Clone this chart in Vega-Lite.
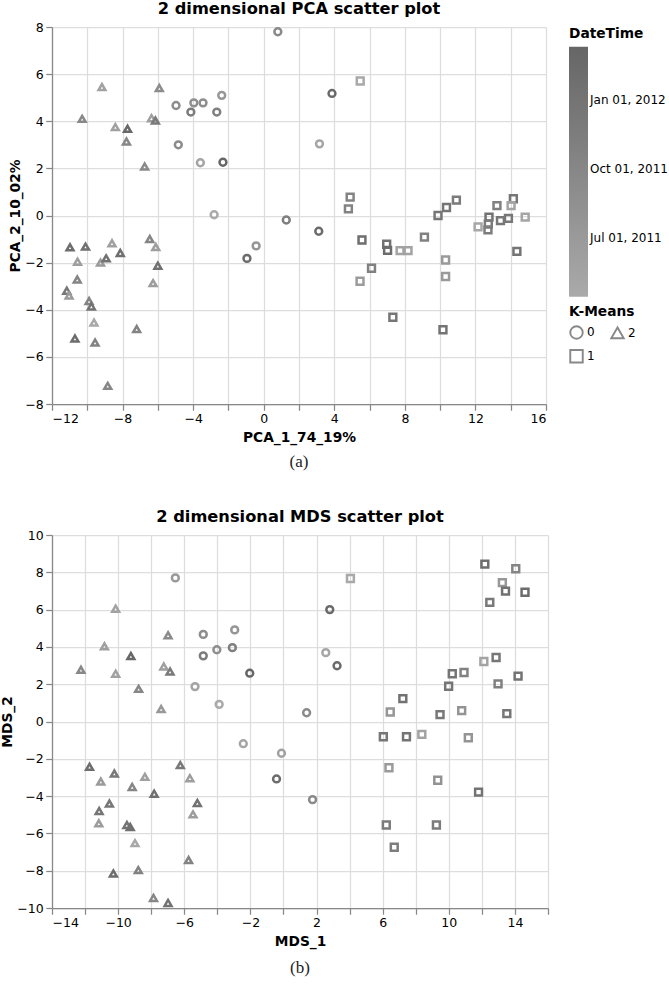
{
  "$schema": "https://vega.github.io/schema/vega-lite/v6.json",
  "padding": {"left": 0, "top": 0, "right": 0, "bottom": 2},
  "config": {
    "font": "DejaVu Sans",
    "view": {"stroke": null},
    "title": {"fontSize": 16.25, "offset": 4},
    "axis": {"labelFontSize": 12.5, "titleFontSize": 13.75, "tickSize": 6.25, "labelPadding": 2.5, "titlePadding": 2, "gridColor": "#dddddd", "gridWidth": 1.25, "domainColor": "#888888", "domainWidth": 1.25, "tickColor": "#888888", "tickWidth": 1.25},
    "axisX": {"labelSeparation": 10, "titlePadding": 5},
    "legend": {"labelFontSize": 12, "titleFontSize": 13.75, "gradientLength": 250, "gradientThickness": 19, "labelOffset": 3, "symbolSize": 156, "symbolStrokeWidth": 1.9, "offset": 20, "titlePadding": 6, "rowPadding": 3, "columnPadding": 12}
  },
  "datasets": {
    "pca": [
      {"x": 0.8, "y": 7.8, "DateTime": "2011-09-20", "KMeans": "0"},
      {"x": -4.97, "y": 4.67, "DateTime": "2011-09-01", "KMeans": "0"},
      {"x": -3.96, "y": 4.78, "DateTime": "2011-08-20", "KMeans": "0"},
      {"x": -3.44, "y": 4.78, "DateTime": "2011-08-25", "KMeans": "0"},
      {"x": -2.38, "y": 5.1, "DateTime": "2011-07-15", "KMeans": "0"},
      {"x": -4.13, "y": 4.39, "DateTime": "2011-11-20", "KMeans": "0"},
      {"x": -2.66, "y": 4.39, "DateTime": "2011-11-05", "KMeans": "0"},
      {"x": -4.84, "y": 3.0, "DateTime": "2011-09-10", "KMeans": "0"},
      {"x": -3.59, "y": 2.24, "DateTime": "2011-05-10", "KMeans": "0"},
      {"x": -2.31, "y": 2.26, "DateTime": "2012-03-12", "KMeans": "0"},
      {"x": -2.81, "y": 0.03, "DateTime": "2011-04-14", "KMeans": "0"},
      {"x": 1.28, "y": -0.19, "DateTime": "2011-11-10", "KMeans": "0"},
      {"x": -0.43, "y": -1.29, "DateTime": "2011-07-20", "KMeans": "0"},
      {"x": -0.95, "y": -1.82, "DateTime": "2012-02-10", "KMeans": "0"},
      {"x": 3.87, "y": 5.18, "DateTime": "2012-02-20", "KMeans": "0"},
      {"x": 3.16, "y": 3.04, "DateTime": "2011-05-05", "KMeans": "0"},
      {"x": 3.12, "y": -0.67, "DateTime": "2012-02-15", "KMeans": "0"},
      {"x": -9.17, "y": 5.45, "DateTime": "2011-05-20", "KMeans": "2"},
      {"x": -5.92, "y": 5.41, "DateTime": "2011-09-05", "KMeans": "2"},
      {"x": -10.29, "y": 4.1, "DateTime": "2011-09-25", "KMeans": "2"},
      {"x": -8.41, "y": 3.75, "DateTime": "2011-05-25", "KMeans": "2"},
      {"x": -7.72, "y": 3.68, "DateTime": "2012-03-01", "KMeans": "2"},
      {"x": -7.78, "y": 3.14, "DateTime": "2011-10-01", "KMeans": "2"},
      {"x": -6.36, "y": 4.13, "DateTime": "2011-06-01", "KMeans": "2"},
      {"x": -6.14, "y": 4.03, "DateTime": "2011-12-01", "KMeans": "2"},
      {"x": -6.75, "y": 2.08, "DateTime": "2011-09-12", "KMeans": "2"},
      {"x": -10.98, "y": -1.35, "DateTime": "2012-02-01", "KMeans": "2"},
      {"x": -10.1, "y": -1.32, "DateTime": "2012-01-20", "KMeans": "2"},
      {"x": -8.6, "y": -1.18, "DateTime": "2011-05-30", "KMeans": "2"},
      {"x": -10.55, "y": -1.96, "DateTime": "2011-06-05", "KMeans": "2"},
      {"x": -9.25, "y": -2.0, "DateTime": "2011-07-01", "KMeans": "2"},
      {"x": -8.93, "y": -1.82, "DateTime": "2012-01-10", "KMeans": "2"},
      {"x": -8.13, "y": -1.59, "DateTime": "2012-01-25", "KMeans": "2"},
      {"x": -6.46, "y": -1.0, "DateTime": "2011-10-05", "KMeans": "2"},
      {"x": -6.12, "y": -1.34, "DateTime": "2011-06-10", "KMeans": "2"},
      {"x": -6.0, "y": -2.13, "DateTime": "2012-01-15", "KMeans": "2"},
      {"x": -6.27, "y": -2.87, "DateTime": "2011-06-15", "KMeans": "2"},
      {"x": -10.57, "y": -2.72, "DateTime": "2011-10-10", "KMeans": "2"},
      {"x": -11.16, "y": -3.19, "DateTime": "2011-12-10", "KMeans": "2"},
      {"x": -11.03, "y": -3.4, "DateTime": "2011-06-20", "KMeans": "2"},
      {"x": -9.9, "y": -3.63, "DateTime": "2011-10-15", "KMeans": "2"},
      {"x": -9.77, "y": -3.86, "DateTime": "2012-01-05", "KMeans": "2"},
      {"x": -9.62, "y": -4.54, "DateTime": "2011-04-25", "KMeans": "2"},
      {"x": -7.2, "y": -4.82, "DateTime": "2011-10-20", "KMeans": "2"},
      {"x": -10.7, "y": -5.22, "DateTime": "2012-02-05", "KMeans": "2"},
      {"x": -9.56, "y": -5.39, "DateTime": "2011-10-25", "KMeans": "2"},
      {"x": -8.84, "y": -7.23, "DateTime": "2011-09-28", "KMeans": "2"},
      {"x": 5.47, "y": 5.71, "DateTime": "2011-04-20", "KMeans": "1"},
      {"x": 4.9, "y": 0.78, "DateTime": "2011-10-12", "KMeans": "1"},
      {"x": 4.8, "y": 0.28, "DateTime": "2011-10-18", "KMeans": "1"},
      {"x": 5.57, "y": -1.04, "DateTime": "2012-01-28", "KMeans": "1"},
      {"x": 6.97, "y": -1.22, "DateTime": "2012-01-18", "KMeans": "1"},
      {"x": 7.02, "y": -1.48, "DateTime": "2012-02-08", "KMeans": "1"},
      {"x": 7.73, "y": -1.49, "DateTime": "2011-05-15", "KMeans": "1"},
      {"x": 8.18, "y": -1.49, "DateTime": "2011-05-18", "KMeans": "1"},
      {"x": 9.11, "y": -0.92, "DateTime": "2011-10-28", "KMeans": "1"},
      {"x": 6.11, "y": -2.24, "DateTime": "2011-11-01", "KMeans": "1"},
      {"x": 5.46, "y": -2.79, "DateTime": "2011-06-25", "KMeans": "1"},
      {"x": 7.32, "y": -4.32, "DateTime": "2011-12-20", "KMeans": "1"},
      {"x": 10.16, "y": -4.85, "DateTime": "2012-01-02", "KMeans": "1"},
      {"x": 9.88, "y": 0.0, "DateTime": "2011-12-25", "KMeans": "1"},
      {"x": 10.36, "y": 0.34, "DateTime": "2011-12-28", "KMeans": "1"},
      {"x": 10.92, "y": 0.65, "DateTime": "2011-11-25", "KMeans": "1"},
      {"x": 10.31, "y": -1.89, "DateTime": "2011-06-28", "KMeans": "1"},
      {"x": 10.31, "y": -2.59, "DateTime": "2011-06-30", "KMeans": "1"},
      {"x": 12.15, "y": -0.48, "DateTime": "2011-04-30", "KMeans": "1"},
      {"x": 12.77, "y": -0.07, "DateTime": "2012-01-12", "KMeans": "1"},
      {"x": 12.73, "y": -0.36, "DateTime": "2011-11-28", "KMeans": "1"},
      {"x": 12.71, "y": -0.61, "DateTime": "2011-11-15", "KMeans": "1"},
      {"x": 13.22, "y": 0.42, "DateTime": "2011-11-03", "KMeans": "1"},
      {"x": 13.42, "y": -0.22, "DateTime": "2011-12-15", "KMeans": "1"},
      {"x": 13.87, "y": -0.12, "DateTime": "2011-12-18", "KMeans": "1"},
      {"x": 14.15, "y": 0.71, "DateTime": "2011-12-22", "KMeans": "1"},
      {"x": 14.02, "y": 0.42, "DateTime": "2011-05-12", "KMeans": "1"},
      {"x": 14.82, "y": -0.07, "DateTime": "2011-05-08", "KMeans": "1"},
      {"x": 14.35, "y": -1.52, "DateTime": "2011-12-30", "KMeans": "1"}
    ],
    "mds": [
      {"x": -6.54, "y": 7.7, "DateTime": "2011-07-05", "KMeans": "0"},
      {"x": -4.85, "y": 4.67, "DateTime": "2011-09-01", "KMeans": "0"},
      {"x": -2.95, "y": 4.91, "DateTime": "2011-07-25", "KMeans": "0"},
      {"x": -4.85, "y": 3.52, "DateTime": "2011-11-20", "KMeans": "0"},
      {"x": -4.03, "y": 3.85, "DateTime": "2011-08-25", "KMeans": "0"},
      {"x": -3.09, "y": 3.96, "DateTime": "2011-11-05", "KMeans": "0"},
      {"x": -2.04, "y": 2.59, "DateTime": "2012-03-12", "KMeans": "0"},
      {"x": -5.35, "y": 1.87, "DateTime": "2011-05-10", "KMeans": "0"},
      {"x": -3.89, "y": 0.92, "DateTime": "2011-04-14", "KMeans": "0"},
      {"x": 1.4, "y": 0.47, "DateTime": "2011-09-10", "KMeans": "0"},
      {"x": -2.43, "y": -1.19, "DateTime": "2011-05-05", "KMeans": "0"},
      {"x": -0.12, "y": -1.7, "DateTime": "2011-05-20", "KMeans": "0"},
      {"x": -0.42, "y": -3.08, "DateTime": "2012-02-10", "KMeans": "0"},
      {"x": 2.8, "y": 6.0, "DateTime": "2012-02-20", "KMeans": "0"},
      {"x": 2.56, "y": 3.69, "DateTime": "2011-05-01", "KMeans": "0"},
      {"x": 3.24, "y": 2.99, "DateTime": "2012-02-15", "KMeans": "0"},
      {"x": 1.76, "y": -4.19, "DateTime": "2011-09-20", "KMeans": "0"},
      {"x": -10.15, "y": 6.05, "DateTime": "2011-05-20", "KMeans": "2"},
      {"x": -6.98, "y": 4.62, "DateTime": "2011-09-05", "KMeans": "2"},
      {"x": -10.83, "y": 4.03, "DateTime": "2011-06-01", "KMeans": "2"},
      {"x": -9.23, "y": 3.51, "DateTime": "2012-03-01", "KMeans": "2"},
      {"x": -12.25, "y": 2.77, "DateTime": "2011-09-25", "KMeans": "2"},
      {"x": -10.15, "y": 2.56, "DateTime": "2011-05-25", "KMeans": "2"},
      {"x": -7.24, "y": 2.95, "DateTime": "2011-06-05", "KMeans": "2"},
      {"x": -6.86, "y": 2.68, "DateTime": "2011-12-01", "KMeans": "2"},
      {"x": -8.76, "y": 1.75, "DateTime": "2011-10-01", "KMeans": "2"},
      {"x": -7.4, "y": 0.67, "DateTime": "2011-07-10", "KMeans": "2"},
      {"x": -11.73, "y": -2.43, "DateTime": "2012-02-01", "KMeans": "2"},
      {"x": -10.23, "y": -2.79, "DateTime": "2011-12-10", "KMeans": "2"},
      {"x": -11.05, "y": -3.22, "DateTime": "2011-07-01", "KMeans": "2"},
      {"x": -8.38, "y": -2.97, "DateTime": "2011-05-30", "KMeans": "2"},
      {"x": -9.15, "y": -3.51, "DateTime": "2011-10-05", "KMeans": "2"},
      {"x": -7.82, "y": -3.87, "DateTime": "2012-01-25", "KMeans": "2"},
      {"x": -6.24, "y": -2.34, "DateTime": "2011-12-05", "KMeans": "2"},
      {"x": -5.66, "y": -3.04, "DateTime": "2011-06-10", "KMeans": "2"},
      {"x": -5.21, "y": -4.37, "DateTime": "2012-01-15", "KMeans": "2"},
      {"x": -5.47, "y": -4.98, "DateTime": "2011-06-15", "KMeans": "2"},
      {"x": -10.53, "y": -4.4, "DateTime": "2011-12-15", "KMeans": "2"},
      {"x": -11.15, "y": -4.8, "DateTime": "2011-12-20", "KMeans": "2"},
      {"x": -11.17, "y": -5.46, "DateTime": "2011-06-20", "KMeans": "2"},
      {"x": -9.47, "y": -5.55, "DateTime": "2012-01-05", "KMeans": "2"},
      {"x": -9.27, "y": -5.66, "DateTime": "2012-01-20", "KMeans": "2"},
      {"x": -8.98, "y": -6.52, "DateTime": "2011-04-25", "KMeans": "2"},
      {"x": -5.74, "y": -7.43, "DateTime": "2011-10-20", "KMeans": "2"},
      {"x": -10.29, "y": -8.15, "DateTime": "2012-02-05", "KMeans": "2"},
      {"x": -8.78, "y": -7.97, "DateTime": "2011-10-25", "KMeans": "2"},
      {"x": -7.86, "y": -9.46, "DateTime": "2011-09-28", "KMeans": "2"},
      {"x": -6.98, "y": -9.73, "DateTime": "2012-01-10", "KMeans": "2"},
      {"x": 4.05, "y": 7.67, "DateTime": "2011-04-20", "KMeans": "1"},
      {"x": 12.18, "y": 8.44, "DateTime": "2012-01-28", "KMeans": "1"},
      {"x": 14.05, "y": 8.19, "DateTime": "2011-10-12", "KMeans": "1"},
      {"x": 13.24, "y": 7.45, "DateTime": "2011-07-15", "KMeans": "1"},
      {"x": 13.43, "y": 6.99, "DateTime": "2012-01-18", "KMeans": "1"},
      {"x": 14.61, "y": 6.93, "DateTime": "2012-02-08", "KMeans": "1"},
      {"x": 12.48, "y": 6.39, "DateTime": "2011-12-05", "KMeans": "1"},
      {"x": 12.12, "y": 3.22, "DateTime": "2011-05-15", "KMeans": "1"},
      {"x": 12.86, "y": 3.43, "DateTime": "2011-12-20", "KMeans": "1"},
      {"x": 14.19, "y": 2.43, "DateTime": "2012-01-02", "KMeans": "1"},
      {"x": 10.21, "y": 2.56, "DateTime": "2011-12-25", "KMeans": "1"},
      {"x": 10.92, "y": 2.63, "DateTime": "2011-10-28", "KMeans": "1"},
      {"x": 9.99, "y": 1.89, "DateTime": "2011-12-28", "KMeans": "1"},
      {"x": 12.98, "y": 2.02, "DateTime": "2011-11-01", "KMeans": "1"},
      {"x": 7.22, "y": 1.23, "DateTime": "2012-01-12", "KMeans": "1"},
      {"x": 6.46, "y": 0.51, "DateTime": "2011-07-20", "KMeans": "1"},
      {"x": 9.47, "y": 0.37, "DateTime": "2011-12-15", "KMeans": "1"},
      {"x": 10.78, "y": 0.58, "DateTime": "2011-08-01", "KMeans": "1"},
      {"x": 13.51, "y": 0.42, "DateTime": "2011-12-18", "KMeans": "1"},
      {"x": 6.04, "y": -0.82, "DateTime": "2011-12-22", "KMeans": "1"},
      {"x": 7.44, "y": -0.82, "DateTime": "2011-12-30", "KMeans": "1"},
      {"x": 8.37, "y": -0.69, "DateTime": "2011-05-18", "KMeans": "1"},
      {"x": 11.18, "y": -0.87, "DateTime": "2011-07-28", "KMeans": "1"},
      {"x": 6.38, "y": -2.48, "DateTime": "2011-06-28", "KMeans": "1"},
      {"x": 9.33, "y": -3.15, "DateTime": "2011-08-05", "KMeans": "1"},
      {"x": 11.8, "y": -3.79, "DateTime": "2012-01-08", "KMeans": "1"},
      {"x": 6.22, "y": -5.55, "DateTime": "2011-11-25", "KMeans": "1"},
      {"x": 9.25, "y": -5.55, "DateTime": "2011-11-28", "KMeans": "1"},
      {"x": 6.7, "y": -6.74, "DateTime": "2011-11-15", "KMeans": "1"}
    ]
  },
  "spacing": 35,
  "vconcat": [
    {
      "spacing": 7,
      "vconcat": [
        {
          "title": "2 dimensional PCA scatter plot",
          "data": {"name": "pca"},
          "width": 494,
          "height": 377,
          "mark": {"type": "point", "size": 47, "strokeWidth": 2.5, "opacity": 1},
          "encoding": {
            "x": {"field": "x", "type": "quantitative", "title": "PCA_1_74_19%", "scale": {"domain": [-12, 16], "nice": false}},
            "y": {"field": "y", "type": "quantitative", "title": "PCA_2_10_02%", "scale": {"domain": [-8, 8], "nice": false}},
            "color": {"field": "DateTime", "type": "temporal", "scale": {"range": ["#aaaaaa", "#666666"]}, "legend": {"title": "DateTime"}},
            "shape": {"field": "KMeans", "type": "nominal", "scale": {"domain": ["0", "1", "2"], "range": ["circle", "square", "triangle-up"]}, "legend": {"title": "K-Means", "columns": 2}}
          }
        },
        {
          "data": {"values": [{"caption": "(a)"}]},
          "width": 494,
          "height": 22,
          "mark": {"type": "text", "font": "Liberation Serif", "fontSize": 17, "color": "#222222"},
          "encoding": {"text": {"field": "caption"}}
        }
      ]
    },
    {
      "spacing": 9,
      "vconcat": [
        {
          "title": "2 dimensional MDS scatter plot",
          "data": {"name": "mds"},
          "width": 496,
          "height": 373,
          "mark": {"type": "point", "size": 47, "strokeWidth": 2.5, "opacity": 1},
          "encoding": {
            "x": {"field": "x", "type": "quantitative", "title": "MDS_1", "scale": {"domain": [-14, 16], "nice": false}},
            "y": {"field": "y", "type": "quantitative", "title": "MDS_2", "scale": {"domain": [-10, 10], "nice": false}},
            "color": {"field": "DateTime", "type": "temporal", "scale": {"range": ["#aaaaaa", "#666666"]}, "legend": {"title": "DateTime"}},
            "shape": {"field": "KMeans", "type": "nominal", "scale": {"domain": ["0", "1", "2"], "range": ["circle", "square", "triangle-up"]}, "legend": {"title": "K-Means", "columns": 2}}
          }
        },
        {
          "data": {"values": [{"caption": "(b)"}]},
          "width": 496,
          "height": 22,
          "mark": {"type": "text", "font": "Liberation Serif", "fontSize": 17, "color": "#222222"},
          "encoding": {"text": {"field": "caption"}}
        }
      ]
    }
  ]
}
